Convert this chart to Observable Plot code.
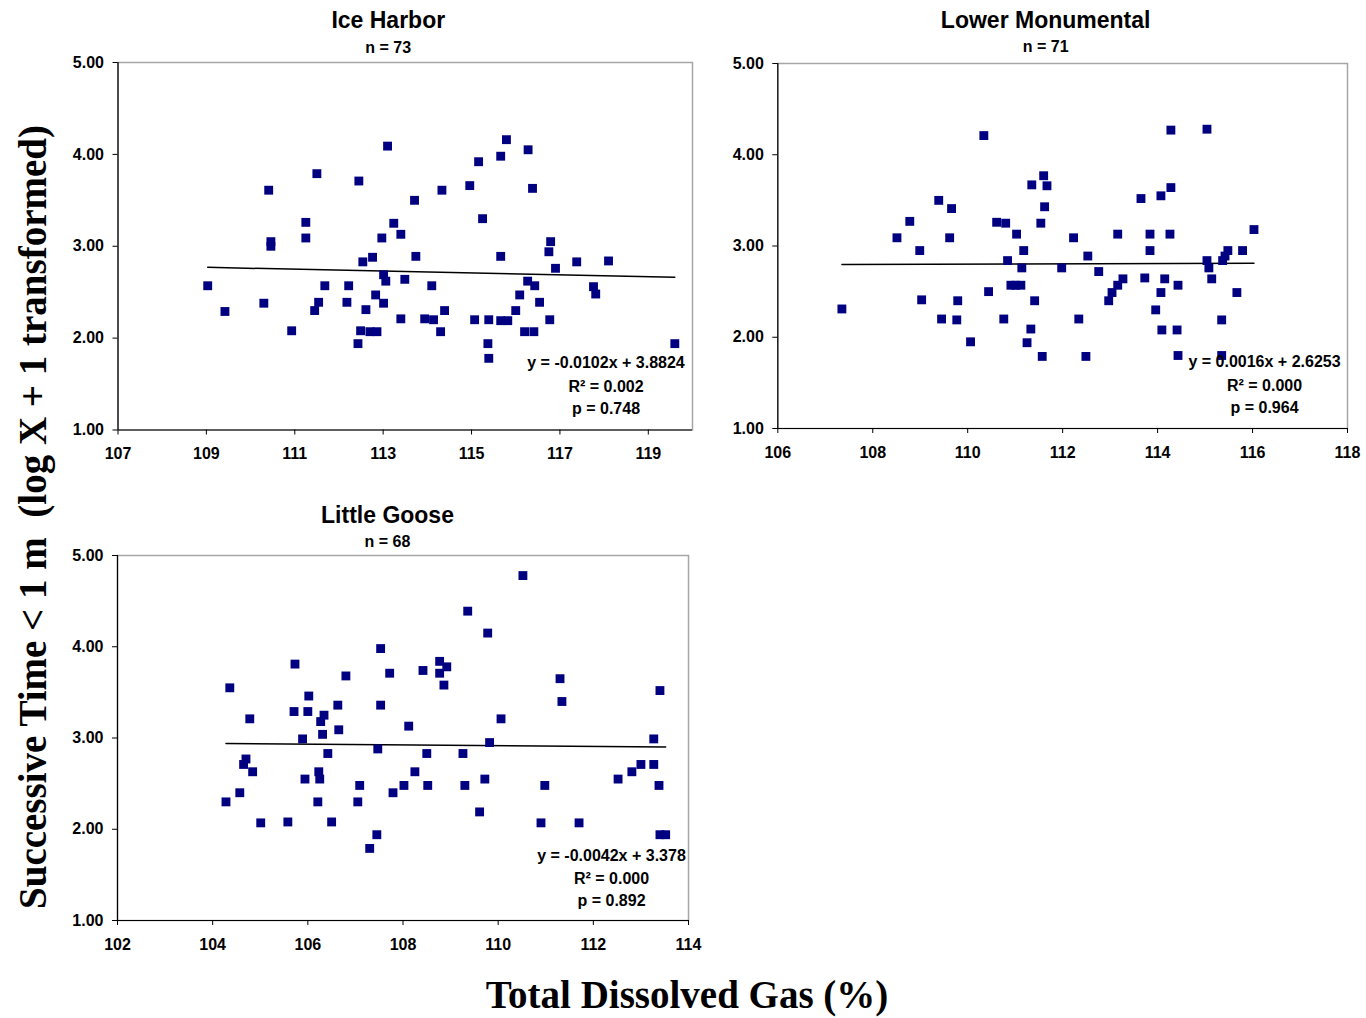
<!DOCTYPE html>
<html><head><meta charset="utf-8">
<script src="https://cdn.jsdelivr.net/npm/d3@7"></script>
<script src="https://cdn.jsdelivr.net/npm/@observablehq/plot@0.6"></script>
<style>
body{margin:0;background:#fff}
#wrap{position:relative;width:1366px;height:1018px;overflow:hidden;font-family:"Liberation Sans",Arial,sans-serif}
.panel{position:absolute}
#ytitle{position:absolute;left:32px;top:517px;transform:translate(-50%,-50%) rotate(-90deg);white-space:pre;font:bold 39px "Liberation Serif","Times New Roman",serif;line-height:1}
#xtitle{position:absolute;left:687px;top:994px;transform:translate(-50%,-50%);white-space:pre;font:bold 39px "Liberation Serif","Times New Roman",serif;line-height:1}
</style></head>
<body>
<div id="wrap">
  <div id="p1" class="panel" style="left:0;top:0"></div>
  <div id="p2" class="panel" style="left:700px;top:0"></div>
  <div id="p3" class="panel" style="left:0;top:490px"></div>
  <div id="ytitle">Successive Time &lt; 1 m  (log X + 1 transformed)</div>
  <div id="xtitle">Total Dissolved Gas (%)</div>
</div>
<script>
// ---- Data ----
const yDomain = [1, 5];
const yTicks = [1, 2, 3, 4, 5];

// Ice Harbor
const iceHarborX = [109.03,109.42,110.30,110.41,110.46,110.46,110.93,111.25,111.25,111.50,111.45,111.54,111.68,112.18,112.22,112.45,112.54,112.49,112.43,112.61,112.76,112.70,112.86,112.83,112.97,113.01,113.01,113.06,113.10,113.24,113.40,113.40,113.49,113.71,113.74,113.94,114.10,114.14,114.33,114.30,114.39,114.96,115.07,115.16,115.25,115.37,115.39,115.39,115.66,115.66,115.66,115.79,115.82,116.00,116.09,116.28,116.38,116.27,116.43,116.54,116.20,116.41,116.79,116.75,116.90,116.77,117.38,117.76,117.81,118.10,119.60];
const iceHarborY = [2.57,2.29,2.38,3.61,3.05,3.00,2.08,3.26,3.09,3.79,2.30,2.39,2.57,2.39,2.57,3.71,2.83,2.08,1.94,2.31,2.88,2.07,2.07,2.47,3.09,2.69,2.38,2.62,4.09,3.25,3.13,2.21,2.64,3.50,2.89,2.21,2.57,2.20,3.61,2.07,2.30,3.66,2.20,3.92,3.30,1.94,1.78,2.20,3.98,2.89,2.19,4.16,2.19,2.30,2.47,4.05,3.63,2.62,2.57,2.39,2.07,2.07,3.05,2.94,2.76,2.20,2.83,2.56,2.48,2.84,1.94];
const iceHarborXDomain = [107, 120];
const iceHarborXTicks = [107, 109, 111, 113, 115, 117, 119];
const iceHarborFit = [-0.0102, 3.8824];
const iceHarborStats = ["y = -0.0102x + 3.8824", "R² = 0.002", "p = 0.748"];

// Lower Monumental
const lowerMonX = [107.35,108.51,108.78,108.99,109.03,109.39,109.66,109.62,109.79,109.45,109.77,110.06,110.34,110.44,110.61,110.80,110.76,110.84,111.03,111.18,111.14,110.91,111.01,111.12,111.41,111.33,111.25,111.57,111.35,111.60,111.67,111.62,111.54,111.98,112.23,112.53,112.34,112.49,112.76,113.27,113.16,113.04,112.97,113.16,113.65,113.73,113.84,113.84,113.96,114.07,114.15,114.07,114.09,114.28,114.28,114.26,114.43,114.41,114.43,115.04,115.04,115.08,115.14,115.35,115.35,115.37,115.42,115.48,115.67,115.79,116.03];
const lowerMonY = [2.31,3.09,3.27,2.95,2.41,3.50,3.41,3.09,2.40,2.20,2.19,1.95,4.21,2.50,3.26,3.25,2.20,2.84,3.13,2.95,2.76,2.57,2.57,2.57,2.40,2.09,1.94,1.79,3.67,3.77,3.66,3.43,3.25,2.76,3.09,2.89,2.20,1.79,2.72,2.64,2.57,2.49,2.40,3.13,3.52,2.65,3.13,2.95,2.30,3.55,2.64,2.49,2.08,4.27,3.64,3.13,2.57,2.08,1.80,4.28,2.84,2.76,2.64,2.19,1.80,2.84,2.89,2.95,2.49,2.95,3.18];
const lowerMonXDomain = [106, 118];
const lowerMonXTicks = [106, 108, 110, 112, 114, 116, 118];
const lowerMonFit = [0.0016, 2.6253];
const lowerMonStats = ["y = 0.0016x + 2.6253", "R² = 0.000", "p = 0.964"];

// Little Goose
const littleGooseX = [104.36,104.78,104.70,104.65,104.84,104.57,104.28,105.01,105.58,105.73,105.71,106.00,106.02,105.89,106.34,106.27,106.31,106.42,105.94,106.23,106.25,106.21,106.50,106.63,106.65,106.80,107.09,107.05,107.30,107.45,107.47,107.53,107.53,107.72,107.79,108.02,108.12,108.25,108.42,108.50,108.52,108.77,108.77,108.92,108.86,109.26,109.30,109.36,109.78,109.82,109.72,109.61,110.06,110.52,110.98,110.90,111.30,111.34,111.70,112.52,112.81,113.00,113.27,113.27,113.40,113.38,113.40,113.52];
const littleGooseY = [3.55,3.21,2.77,2.71,2.63,2.40,2.30,2.07,2.08,3.81,3.29,3.29,3.46,2.99,3.25,3.18,3.04,2.83,2.55,2.63,2.55,2.30,2.08,3.36,3.09,3.68,2.48,2.30,1.79,1.94,2.88,3.98,3.36,3.71,2.40,2.48,3.13,2.63,3.74,2.83,2.48,3.84,3.71,3.78,3.58,2.83,2.48,4.39,4.15,2.95,2.55,2.19,3.21,4.78,2.48,2.07,3.65,3.40,2.07,2.55,2.63,2.71,2.99,2.71,3.52,2.48,1.94,1.94];
const littleGooseXDomain = [102, 114];
const littleGooseXTicks = [102, 104, 106, 108, 110, 112, 114];
const littleGooseFit = [-0.0042, 3.378];
const littleGooseStats = ["y = -0.0042x + 3.378", "R² = 0.000", "p = 0.892"];

const panelTitles = ["Ice Harbor", "Lower Monumental", "Little Goose"];
const panelN = [73, 71, 68];

// ---- Drawing ----
function makePanel(o) {
  const pts = o.xs.map((x, i) => ({x, y: o.ys[i]}));
  const ext = d3.extent(o.xs);
  const trend = ext.map(x => ({x, y: o.fit[0] * x + o.fit[1]}));
  const txt = (s, anchor, dx, dy, size) => Plot.text([s], {text: d => d, frameAnchor: anchor, textAnchor: "middle", lineAnchor: "middle", dx, dy, fontSize: size, fontWeight: "bold"});
  return Plot.plot({
    width: o.width, height: o.height,
    marginLeft: o.ml, marginRight: o.mr, marginTop: o.mt, marginBottom: o.mb,
    style: {fontFamily: '"Liberation Sans", Arial, sans-serif', fontWeight: "bold", fontSize: "16px", color: "#000", background: "transparent", overflow: "visible"},
    x: {domain: o.xDomain},
    y: {domain: yDomain},
    marks: [
      Plot.frame({stroke: "#a6a6a6", strokeWidth: 1.5}),
      Plot.ruleX([o.xDomain[0]], {stroke: "#000", strokeWidth: 1.2}),
      Plot.ruleY([yDomain[0]], {stroke: "#000", strokeWidth: 1.2}),
      Plot.axisY(yTicks, {tickSize: 5, tickPadding: 9, tickFormat: d => d.toFixed(2), label: null, fontSize: 16, fontWeight: "bold"}),
      Plot.axisX(o.xTicks, {tickSize: 5, tickPadding: 13, tickFormat: d => String(d), label: null, fontSize: 16, fontWeight: "bold"}),
      Plot.line(trend, {x: "x", y: "y", stroke: "#000", strokeWidth: 1.5}),
      Plot.dot(pts, {x: "x", y: "y", symbol: "square", r: 5, fill: "#000080"}),
      txt(o.title, "top", o.tdx, o.tdy, 23),
      txt("n = " + o.n, "top", o.tdx, o.ndy, 16),
      txt(o.stats[0], "bottom-right", o.adx, o.ady[0], 16),
      txt(o.stats[1], "bottom-right", o.adx, o.ady[1], 16),
      txt(o.stats[2], "bottom-right", o.adx, o.ady[2], 16)
    ]
  });
}

document.getElementById("p1").append(makePanel({
  xs: iceHarborX, ys: iceHarborY, xDomain: iceHarborXDomain, xTicks: iceHarborXTicks, fit: iceHarborFit, stats: iceHarborStats,
  title: panelTitles[0], n: panelN[0],
  width: 700, height: 470, ml: 117.5, mr: 8, mt: 62, mb: 40.5,
  tdx: -17, tdy: -42, ndy: -15, adx: -86.5, ady: [-67.5, -43.5, -21.5]
}));
document.getElementById("p2").append(makePanel({
  xs: lowerMonX, ys: lowerMonY, xDomain: lowerMonXDomain, xTicks: lowerMonXTicks, fit: lowerMonFit, stats: lowerMonStats,
  title: panelTitles[1], n: panelN[1],
  width: 666, height: 470, ml: 77.3, mr: 19, mt: 63, mb: 42,
  tdx: -17, tdy: -43, ndy: -17, adx: -83, ady: [-67, -43, -21]
}));
document.getElementById("p3").append(makePanel({
  xs: littleGooseX, ys: littleGooseY, xDomain: littleGooseXDomain, xTicks: littleGooseXTicks, fit: littleGooseFit, stats: littleGooseStats,
  title: panelTitles[2], n: panelN[2],
  width: 700, height: 480, ml: 117, mr: 12, mt: 65, mb: 50,
  tdx: -15.5, tdy: -40, ndy: -14, adx: -77, ady: [-65, -42, -20]
}));
</script>
</body></html>
